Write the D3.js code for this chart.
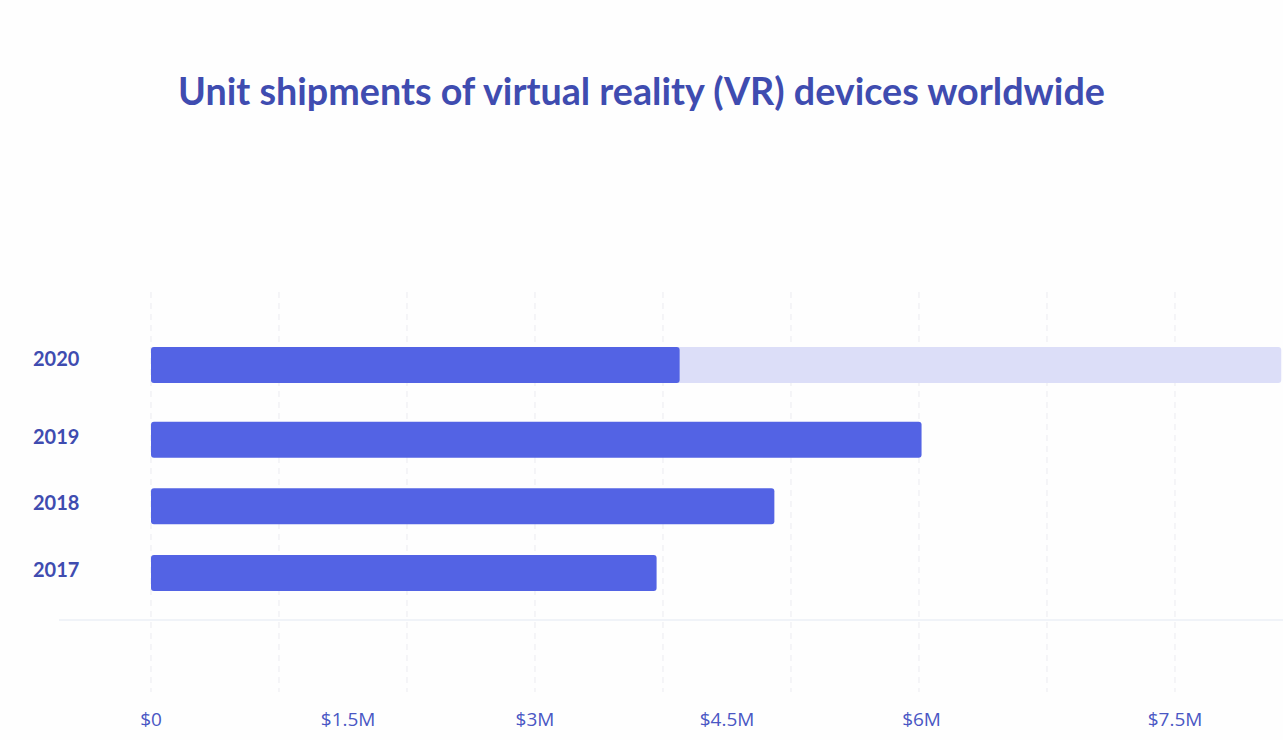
<!DOCTYPE html>
<html>
<head>
<meta charset="utf-8">
<script src="https://cdn.jsdelivr.net/npm/d3@7/dist/d3.min.js"></script>
<style>
  html, body { margin: 0; padding: 0; background: #fefefe; }
  svg { display: block; }
</style>
</head>
<body>
<svg id="chart" width="1283" height="740"></svg>
<script>
// ---- data ----
const title = "Unit shipments of virtual reality (VR) devices worldwide";
const years = ["2020", "2019", "2018", "2017"];
const shipments = [4.13, 6.02, 4.87, 3.95];       // millions (dark bars)
const forecast = [8.83, null, null, null];        // millions (light background bar for 2020)
const gridValues = [0, 1, 2, 3, 4, 5, 6, 7, 8];   // gridlines (millions)
const tickLabels = ["$0", "$1.5M", "$3M", "$4.5M", "$6M", "$7.5M"];
const tickLabelAt = [0, 1.54, 3, 4.5, 6.02, 8];   // where each label sits (millions, as in picture)

// ---- layout ----
const W = 1283, H = 740;
const svg = d3.select("#chart");
const x = d3.scaleLinear().domain([0, 8]).range([151, 1175]);
const yBase = d3.scalePoint().domain(years).range([373, 573]);
const forecastGap = 8; // extra space above the forecast row
const y = d3 => yBase(d3) - (d3 === years[0] ? forecastGap : 0);
const barH = 36;

const titleColor = "#3f4cb0";
const barColor = "#5363e4";
const lightColor = "#dcdef8";
const tickColor = "#4a57c4";

// title
const t = svg.append("text")
  .attr("x", W / 2).attr("y", 105)
  .attr("text-anchor", "middle")
  .attr("font-family", "Lato, 'Open Sans', sans-serif")
  .attr("font-weight", 700)
  .attr("font-size", 32)
  .attr("fill", titleColor)
  .text(title);
const tw = t.node().getComputedTextLength();
t.attr("font-size", 32 * 927 / tw);

// gridlines
svg.append("g").selectAll("line").data(gridValues).join("line")
  .attr("x1", d => x(d)).attr("x2", d => x(d))
  .attr("y1", 292).attr("y2", 692)
  .attr("stroke", "#ebebf0")
  .attr("stroke-width", 1)
  .attr("stroke-dasharray", "6,5");

// baseline
svg.append("line")
  .attr("x1", 59).attr("x2", W)
  .attr("y1", 620).attr("y2", 620)
  .attr("stroke", "#f0f3f8").attr("stroke-width", 2);

// forecast bars (light)
const rows = years.map((yr, i) => ({ yr, v: shipments[i], f: forecast[i] }));
svg.append("g").selectAll("rect").data(rows.filter(d => d.f != null)).join("rect")
  .attr("x", x(0))
  .attr("y", d => y(d.yr) - barH / 2)
  .attr("width", d => x(d.f) - x(0))
  .attr("height", barH)
  .attr("rx", 3)
  .attr("fill", lightColor);

// value bars
svg.append("g").selectAll("rect").data(rows).join("rect")
  .attr("x", x(0))
  .attr("y", d => y(d.yr) - barH / 2)
  .attr("width", d => x(d.v) - x(0))
  .attr("height", barH)
  .attr("rx", 3)
  .attr("fill", barColor);

// year labels
svg.append("g").selectAll("text").data(years).join("text")
  .attr("x", 33)
  .attr("y", (d, i) => y(d) - (i === 0 ? 6 : 3))
  .attr("dy", "0.35em")
  .attr("font-family", "Lato, 'Open Sans', sans-serif")
  .attr("font-weight", 700)
  .attr("font-size", 20)
  .attr("fill", titleColor)
  .text(d => d);

// x tick labels
svg.append("g").selectAll("text").data(tickLabels).join("text")
  .attr("x", (d, i) => x(tickLabelAt[i]))
  .attr("y", 719)
  .attr("dy", "0.35em")
  .attr("text-anchor", "middle")
  .attr("font-family", "'Open Sans', sans-serif")
  .attr("font-size", 19)
  .attr("fill", tickColor)
  .text(d => d);
</script>
</body>
</html>
